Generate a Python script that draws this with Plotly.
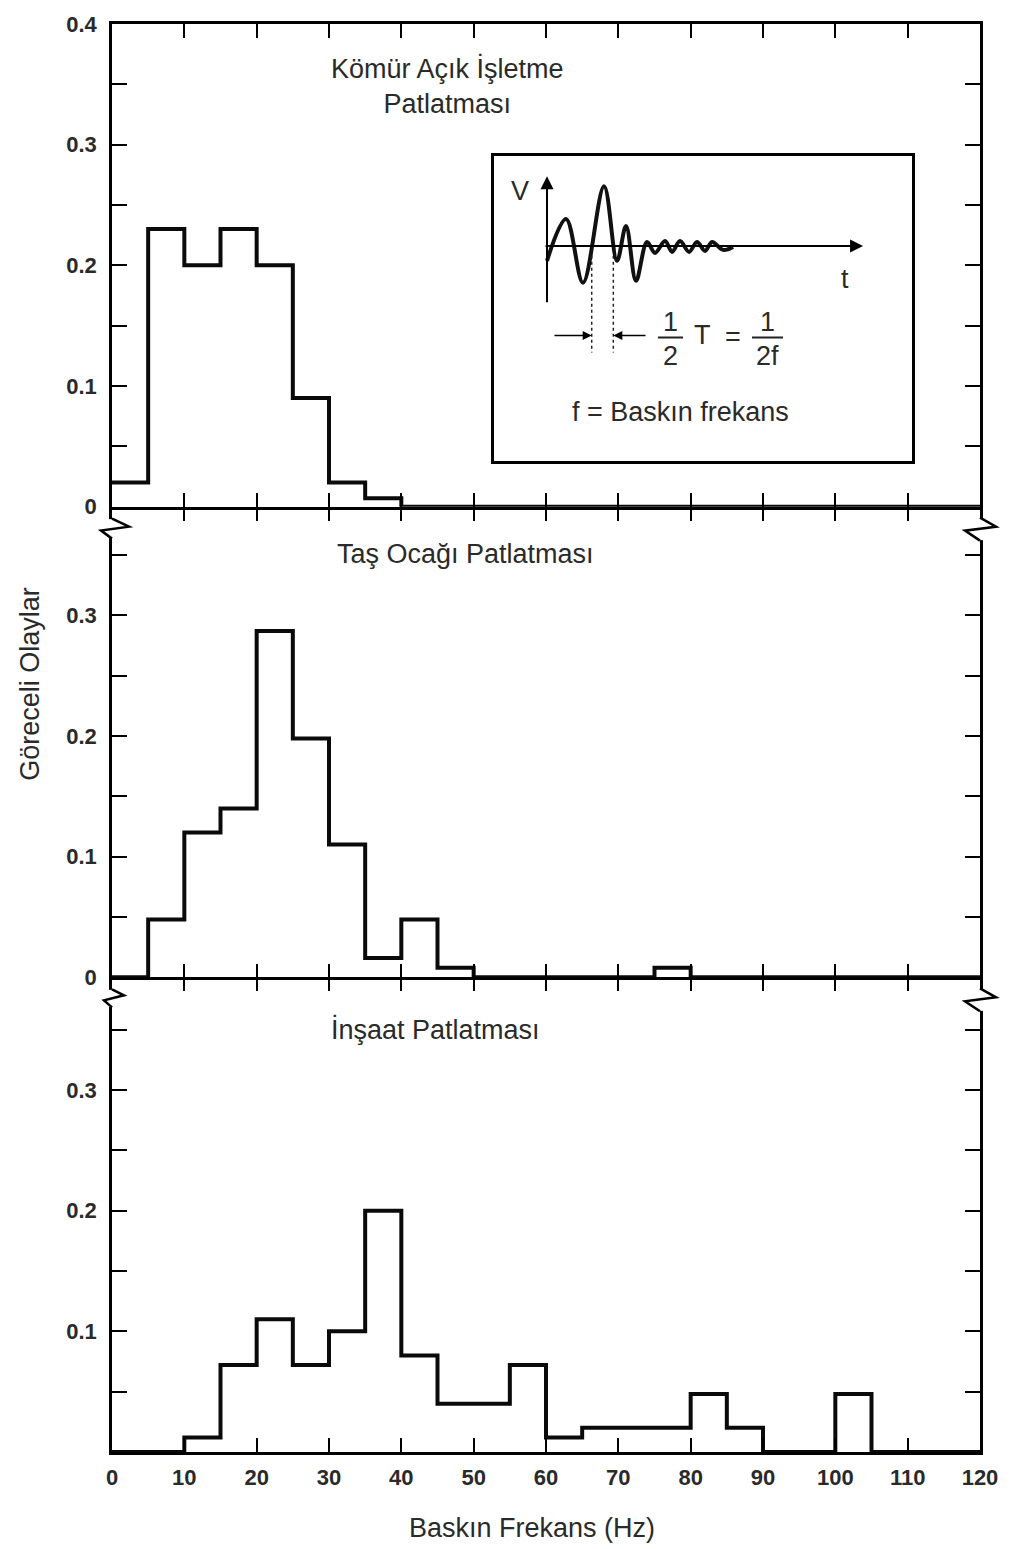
import plotly.graph_objects as go

# ---------------- data ----------------
bin_edges = [0, 5, 10, 15, 20, 25, 30, 35, 40, 45, 50, 55, 60, 65, 70, 75, 80,
             85, 90, 95, 100, 105, 110, 115, 120]

komur_acik = [0.02, 0.23, 0.20, 0.23, 0.20, 0.09, 0.02, 0.007, 0, 0, 0, 0,
              0, 0, 0, 0, 0, 0, 0, 0, 0, 0, 0, 0]
tas_ocagi = [0, 0.048, 0.12, 0.14, 0.287, 0.198, 0.11, 0.016, 0.048, 0.008, 0, 0,
             0, 0, 0, 0.008, 0, 0, 0, 0, 0, 0, 0, 0]
insaat = [0, 0, 0.012, 0.072, 0.11, 0.072, 0.10, 0.20, 0.08, 0.04, 0.04, 0.072,
          0.012, 0.02, 0.02, 0.02, 0.048, 0.02, 0, 0, 0.048, 0, 0, 0]

panel_titles = ["Kömür Açık İşletme<br>Patlatması", "Taş Ocağı Patlatması", "İnşaat Patlatması"]

x_tickvals = [0, 10, 20, 30, 40, 50, 60, 70, 80, 90, 100, 110, 120]
x_ticktext = ["0", "10", "20", "30", "40", "50", "60", "70", "80", "90", "100", "110", "120"]
y_major_top = [0, 0.1, 0.2, 0.3, 0.4]
y_major_mid = [0, 0.1, 0.2, 0.3]
y_major_bot = [0.1, 0.2, 0.3]
y_minor = [0.05, 0.15, 0.25, 0.35]

# inset schematic waveform (arbitrary time / amplitude units)
wave_t = [0, 1.9, 3.6, 5.7, 7.0, 7.9, 8.9, 10.0, 10.8, 11.8, 12.5, 13.3, 14.2,
          15.0, 15.8, 16.5, 17.6, 18.6]
wave_v = [-1.5, 2.7, -3.7, 6.0, -1.5, 2.0, -3.5, 0.4, -0.7, 0.5, -0.6, 0.5, -0.6,
          0.4, -0.5, 0.4, -0.4, -0.1]

# ---------------- figure ----------------
FONT = "Liberation Sans"
TXT = "#2a2a2a"

fig = go.Figure()

def step(vals):
    return bin_edges, vals + [vals[-1]]

for vals, xa, ya in [(komur_acik, "x", "y"), (tas_ocagi, "x2", "y2"), (insaat, "x3", "y3")]:
    xs, ys = step(vals)
    fig.add_trace(go.Scatter(x=xs, y=ys, mode="lines", line=dict(shape="hv", color="#0a0a0a", width=4),
                             xaxis=xa, yaxis=ya, showlegend=False, hoverinfo="skip"))

# empty traces so the top-edge tick axes of the lower panels are drawn
for xa, ya in [("x5", "y2"), ("x6", "y3")]:
    fig.add_trace(go.Scatter(x=[], y=[], xaxis=xa, yaxis=ya, showlegend=False, hoverinfo="skip"))

# inset waveform
fig.add_trace(go.Scatter(x=wave_t, y=wave_v, mode="lines",
                         line=dict(shape="spline", smoothing=1.0, color="#111", width=4),
                         xaxis="x4", yaxis="y4", showlegend=False, hoverinfo="skip"))

R1 = [0, 0.4]
R2 = [0, 0.3901]
R3 = [0, 0.3934]
D1 = [0.66202, 1.0]
D2 = [0.33240, 0.66202]
D3 = [0.0, 0.33240]

TICKFONT = dict(family=FONT, size=22, color=TXT, weight="bold")

def xaxis(anchor, labels, mirror):
    return dict(range=[0, 120], domain=[0, 1], anchor=anchor,
                tickmode="array", tickvals=x_tickvals, ticktext=x_ticktext,
                ticks="inside", ticklen=14, tickwidth=2, tickcolor="black",
                showline=True, linewidth=2.5, linecolor="black", mirror=mirror,
                showgrid=False, zeroline=False, showticklabels=labels,
                tickfont=TICKFONT, ticklabelstandoff=4)

def top_ticks(over, anchor):
    return dict(range=[0, 120], overlaying=over, anchor=anchor, side="top",
                tickmode="array", tickvals=x_tickvals,
                ticks="inside", ticklen=14, tickwidth=2, tickcolor="black",
                showline=False, showgrid=False, zeroline=False, showticklabels=False)

def yaxis(rng, dom, anchor, vals):
    return dict(range=rng, domain=dom, anchor=anchor,
                tickmode="array", tickvals=vals, ticktext=[("0" if v == 0 else f"{v:.1f}") for v in vals],
                ticks="inside", ticklen=15, tickwidth=2, tickcolor="black",
                minor=dict(tickvals=y_minor, ticks="inside", ticklen=15, tickwidth=2, tickcolor="black"),
                showline=True, linewidth=2.5, linecolor="black", mirror="ticks",
                showgrid=False, zeroline=False, ticklabelstandoff=8,
                tickfont=TICKFONT)

fig.update_layout(
    width=1012, height=1549, autosize=False,
    margin=dict(l=112, r=32, t=17, b=97),
    paper_bgcolor="white", plot_bgcolor="white",
    xaxis=xaxis("y", False, "ticks"), yaxis=yaxis(R1, D1, "x", y_major_top),
    xaxis2=xaxis("y2", False, False), yaxis2=yaxis(R2, D2, "x2", y_major_mid),
    xaxis3=xaxis("y3", True, False), yaxis3=yaxis(R3, D3, "x3", y_major_bot),
    xaxis5=top_ticks("x2", "y2"),
    xaxis6=top_ticks("x3", "y3"),
    xaxis4=dict(domain=[0.4401, 0.9217], anchor="y4", range=[-5.3, 36.5], showline=True, mirror=True,
                linewidth=2.5, linecolor="black", showgrid=False, zeroline=False, showticklabels=False, ticks=""),
    yaxis4=dict(domain=[0.6941, 0.9073], anchor="x4", range=[-21.6, 9.0], showline=True, mirror=True,
                linewidth=2.5, linecolor="black", showgrid=False, zeroline=False, showticklabels=False, ticks=""),
)

shapes = []
# axis break marks (zigzag) just below the top of the lower panels
breaks = [(D2[1], [(0, -12), (17, -20), (-11, -24), (0, -32)], 0),
          (D2[1], [(0, -11), (16, -20), (-15, -24), (0, -34)], 1),
          (D3[1], [(0, -12), (12, -18), (-8, -23), (0, -30)], 0),
          (D3[1], [(0, -11), (16, -20), (-15, -24), (0, -34)], 1)]
for ytop, pts, xa in breaks:
    shapes.append(dict(type="rect", xref="paper", yref="paper", xsizemode="pixel", ysizemode="pixel",
                       xanchor=xa, yanchor=ytop, x0=-4, x1=4, y0=pts[0][1] - 0.5, y1=pts[-1][1] + 0.5,
                       fillcolor="white", line=dict(width=0), layer="above"))
    path = "M " + " L ".join(f"{a},{b}" for a, b in pts)
    shapes.append(dict(type="path", xref="paper", yref="paper", xsizemode="pixel", ysizemode="pixel",
                       xanchor=xa, yanchor=ytop, path=path, line=dict(color="black", width=2.5), layer="above"))

# inset: dashed half-period markers and fraction bars
for tx in [4.47, 6.63]:
    shapes.append(dict(type="line", xref="x4", yref="y4", x0=tx, x1=tx, y0=-1.0, y1=-10.7,
                       line=dict(color="#222", width=1.5, dash="dot")))
for a, b in [(11.1, 13.6), (20.5, 23.6)]:
    shapes.append(dict(type="line", xref="x4", yref="y4", x0=a, x1=b, y0=-9.2, y1=-9.2,
                       line=dict(color="#222", width=2)))
fig.update_layout(shapes=shapes)

ann = []
tfont = dict(family=FONT, size=27, color=TXT)
ann.append(dict(text=panel_titles[0], xref="x", yref="y", x=30, y=0.349, xanchor="left", yanchor="middle",
                showarrow=False, font=tfont, align="center"))
ann.append(dict(text=panel_titles[1], xref="x2", yref="y2", x=30.8, y=0.3505, xanchor="left", yanchor="middle",
                showarrow=False, font=tfont))
ann.append(dict(text=panel_titles[2], xref="x3", yref="y3", x=30, y=0.3505, xanchor="left", yanchor="middle",
                showarrow=False, font=tfont))
ann.append(dict(text="Göreceli Olaylar", xref="paper", yref="paper", x=-0.0945, y=0.538, textangle=-90,
                showarrow=False, font=tfont, xanchor="center", yanchor="middle"))
ann.append(dict(text="Baskın Frekans (Hz)", xref="paper", yref="paper", x=0.4839, y=-0.053,
                showarrow=False, font=tfont, xanchor="center", yanchor="middle"))

# inset arrows
ann.append(dict(x=31.6, y=0, ax=-0.3, ay=0, xref="x4", yref="y4", axref="x4", ayref="y4", text="",
                showarrow=True, arrowhead=2, arrowsize=1.3, arrowwidth=2, arrowcolor="black"))
ann.append(dict(x=0, y=7.0, ax=0, ay=-5.8, xref="x4", yref="y4", axref="x4", ayref="y4", text="",
                showarrow=True, arrowhead=2, arrowsize=1.3, arrowwidth=2, arrowcolor="black"))
ann.append(dict(x=4.47, y=-9.0, ax=0.6, ay=-9.0, xref="x4", yref="y4", axref="x4", ayref="y4", text="",
                showarrow=True, arrowhead=2, arrowsize=1.2, arrowwidth=1.5, arrowcolor="black"))
ann.append(dict(x=6.63, y=-9.0, ax=10.0, ay=-9.0, xref="x4", yref="y4", axref="x4", ayref="y4", text="",
                showarrow=True, arrowhead=2, arrowsize=1.2, arrowwidth=1.5, arrowcolor="black"))
ifont = dict(family=FONT, size=27, color=TXT)
for txt, tx, ty in [("V", -2.7, 5.5), ("t", 29.8, -3.3), ("1", 12.3, -7.6), ("2", 12.3, -11.1),
                    ("T", 15.5, -9.0), ("=", 18.6, -9.2), ("1", 22.0, -7.6), ("2f", 22.0, -11.1),
                    ("f = Baskın frekans", 13.3, -16.7)]:
    ann.append(dict(text=txt, x=tx, y=ty, xref="x4", yref="y4", showarrow=False, font=ifont,
                    xanchor="center", yanchor="middle"))
fig.update_layout(annotations=ann)

fig.write_html("out.html", config={"displayModeBar": False})
